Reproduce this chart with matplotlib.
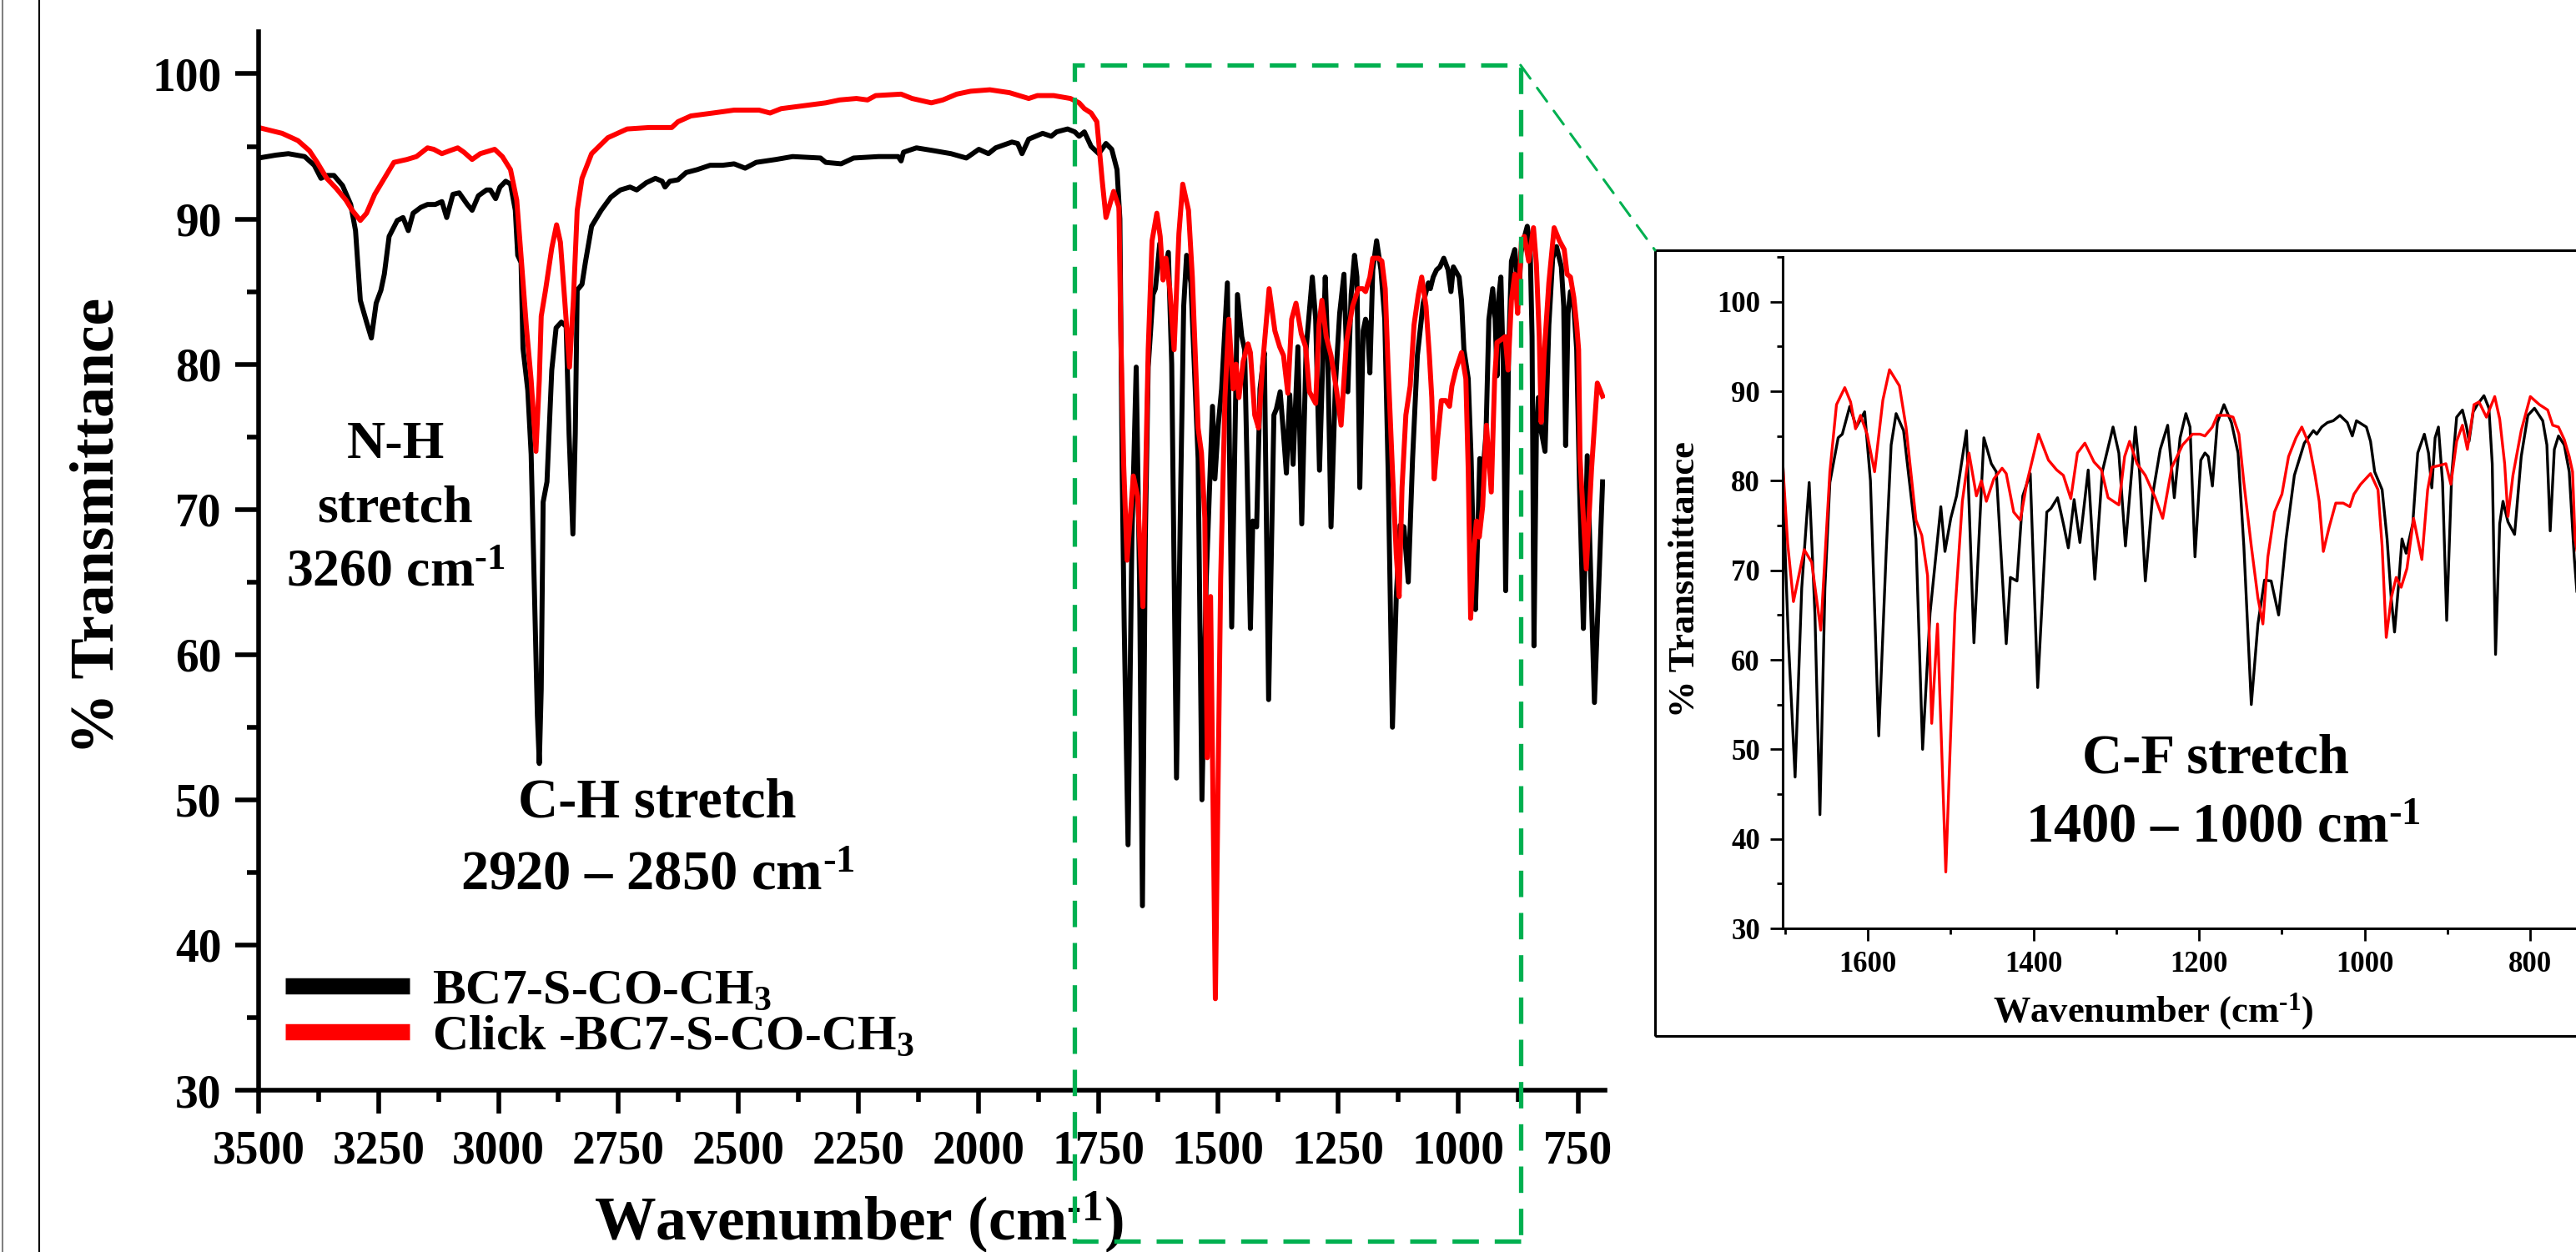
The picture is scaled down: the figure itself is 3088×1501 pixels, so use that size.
import matplotlib
matplotlib.use("Agg")
import matplotlib.pyplot as plt
from matplotlib.patches import Rectangle, ConnectionPatch
from matplotlib.lines import Line2D
from matplotlib.ticker import MultipleLocator

# FTIR spectra (wavenumber in cm-1, % transmittance)
bc7_wn = [3500, 3464, 3438, 3404, 3384, 3370, 3358, 3343, 3325, 3308,
          3298, 3288, 3275, 3265, 3255, 3245, 3238, 3228, 3211, 3199,
          3188, 3178, 3162, 3148, 3132, 3118, 3108, 3095, 3082, 3065,
          3055, 3042, 3025, 3017, 3006, 2997, 2985, 2975, 2965, 2960,
          2953, 2949, 2939, 2932, 2925, 2919, 2915, 2911, 2907, 2899,
          2889, 2880, 2869, 2859, 2853, 2845, 2840, 2836, 2826, 2819,
          2806, 2786, 2766, 2746, 2726, 2712, 2692, 2673, 2659, 2653,
          2643, 2626, 2609, 2586, 2559, 2533, 2509, 2486, 2463, 2422,
          2387, 2329, 2318, 2286, 2260, 2208, 2167, 2161, 2156, 2129,
          2092, 2057, 2025, 1999, 1979, 1964, 1930, 1918, 1909, 1895,
          1866, 1848, 1837, 1814, 1799, 1790, 1779, 1765, 1749, 1734,
          1722, 1711, 1705, 1700, 1696, 1688, 1680, 1671, 1664, 1658,
          1652, 1646, 1636, 1631, 1622, 1614, 1604, 1597, 1587, 1578,
          1572, 1566, 1557, 1542, 1534, 1525, 1512, 1507, 1500, 1493,
          1481, 1472, 1460, 1451, 1445, 1433, 1428, 1420, 1413, 1404,
          1395, 1384, 1379, 1371, 1364, 1358, 1351, 1344, 1334, 1326,
          1317, 1304, 1297, 1289, 1277, 1272, 1265, 1256, 1247, 1238,
          1230, 1223, 1216, 1211, 1205, 1198, 1193, 1189, 1184, 1178,
          1170, 1161, 1153, 1146, 1137, 1129, 1121, 1113, 1104, 1095,
          1085, 1073, 1062, 1058, 1052, 1045, 1038, 1030, 1021, 1015,
          1010, 998, 993, 988, 979, 973, 968, 964, 959, 955,
          950, 942, 936, 928, 923, 919, 915, 911, 906, 901,
          895, 889, 882, 877, 874, 869, 864, 856, 850, 846,
          842, 837, 833, 827, 819, 811, 803, 795, 785, 780,
          776, 771, 766, 759, 753, 747, 739, 731, 716, 699]
bc7_t = [94.2, 94.4, 94.5, 94.3, 93.7, 92.8, 93.0, 93.0, 92.3, 91.0,
         89.2, 84.4, 82.9, 81.8, 84.2, 85.1, 86.2, 88.8, 89.9, 90.1,
         89.2, 90.4, 90.8, 91.0, 91.0, 91.2, 90.1, 91.7, 91.8, 91.0,
         90.6, 91.6, 92.0, 92.0, 91.4, 92.2, 92.6, 92.4, 90.6, 87.5,
         87.0, 81.1, 78.2, 73.8, 64.2, 55.8, 52.5, 57.6, 70.5, 71.9,
         79.6, 82.5, 82.9, 82.6, 75.2, 68.3, 75.2, 85.1, 85.5, 87.0,
         89.5, 90.6, 91.5, 92.0, 92.2, 92.0, 92.5, 92.8, 92.6, 92.2,
         92.6, 92.7, 93.2, 93.4, 93.7, 93.7, 93.8, 93.5, 93.9, 94.1,
         94.3, 94.2, 93.9, 93.8, 94.2, 94.3, 94.3, 94.0, 94.6, 94.9,
         94.7, 94.5, 94.2, 94.8, 94.5, 94.9, 95.3, 95.2, 94.5, 95.5,
         95.9, 95.7, 96.0, 96.2, 96.0, 95.7, 96.0, 95.0, 94.5, 95.2,
         94.8, 93.4, 90.0, 72.0, 62.0, 46.9, 68.0, 79.8, 65.0, 42.7,
         68.0, 79.8, 84.8, 85.2, 88.3, 86.0, 87.7, 80.0, 51.5, 72.0,
         84.0, 87.5, 85.6, 73.5, 50.0, 65.2, 77.1, 72.1, 75.8, 78.3,
         85.6, 61.9, 84.8, 81.9, 81.0, 61.8, 69.2, 68.8, 78.3, 80.8,
         56.9, 76.5, 76.9, 78.1, 75.2, 72.5, 77.9, 73.1, 81.2, 69.0,
         81.0, 86.0, 83.1, 72.7, 86.0, 81.0, 68.8, 78.5, 83.5, 86.2,
         78.1, 84.8, 87.5, 86.0, 71.5, 82.3, 83.1, 82.7, 79.4, 86.5,
         88.5, 86.5, 83.1, 72.7, 55.0, 64.0, 68.9, 68.8, 65.0, 73.5,
         80.6, 84.2, 85.6, 85.2, 86.0, 86.5, 86.7, 87.3, 86.5, 85.0,
         86.7, 86.0, 84.4, 81.0, 79.0, 73.5, 66.9, 63.1, 68.5, 73.5,
         71.9, 75.2, 83.1, 85.2, 83.1, 79.2, 84.8, 86.0, 79.8, 64.4,
         80.6, 87.1, 87.9, 86.0, 84.4, 87.7, 88.5, 89.5, 88.1, 81.9,
         60.6, 75.2, 77.7, 75.4, 74.0, 82.7, 87.3, 88.1, 86.7, 84.0,
         74.4, 83.5, 85.0, 84.0, 81.0, 71.5, 61.8, 73.7, 56.7, 71.9]

click_wn = [3500, 3451, 3418, 3394, 3378, 3358, 3338, 3318, 3305, 3288,
            3275, 3258, 3238, 3218, 3191, 3171, 3148, 3135, 3118, 3102,
            3085, 3072, 3055, 3038, 3008, 2992, 2975, 2962, 2952, 2942,
            2932, 2922, 2915, 2911, 2902, 2889, 2879, 2871, 2862, 2852,
            2844, 2836, 2826, 2806, 2772, 2732, 2686, 2639, 2626, 2599,
            2553, 2509, 2457, 2434, 2411, 2364, 2318, 2289, 2254, 2231,
            2214, 2161, 2138, 2098, 2074, 2045, 2016, 1976, 1935, 1895,
            1877, 1843, 1808, 1790, 1779, 1765, 1753, 1742, 1734, 1718,
            1707, 1703, 1697, 1690, 1677, 1668, 1657, 1646, 1638, 1628,
            1621, 1615, 1609, 1601, 1592, 1582, 1574, 1562, 1554, 1542,
            1535, 1528, 1523, 1516, 1506, 1495, 1486, 1478, 1469, 1463,
            1457, 1448, 1438, 1433, 1424, 1416, 1408, 1394, 1382, 1372,
            1364, 1355, 1347, 1338, 1327, 1318, 1310, 1297, 1290, 1284,
            1275, 1265, 1253, 1244, 1233, 1220, 1208, 1199, 1193, 1184,
            1178, 1166, 1159, 1152, 1146, 1137, 1129, 1123, 1117, 1109,
            1100, 1092, 1083, 1076, 1067, 1060, 1055, 1050, 1043, 1035,
            1026, 1018, 1013, 1005, 993, 984, 979, 974, 968, 962,
            956, 949, 941, 931, 924, 919, 910, 902, 896, 889,
            882, 876, 868, 862, 853, 843, 837, 831, 827, 821,
            811, 800, 789, 779, 773, 766, 759, 753, 749, 746,
            733, 722, 710, 699]
click_t = [96.3, 95.9, 95.4, 94.7, 93.9, 92.8, 92.1, 91.3, 90.6, 89.9,
           90.4, 91.7, 92.8, 93.9, 94.1, 94.3, 94.9, 94.8, 94.5, 94.7,
           94.9, 94.6, 94.1, 94.5, 94.8, 94.3, 93.4, 91.3, 87.0, 82.6,
           78.9, 74.0, 78.9, 83.3, 85.1, 88.0, 89.6, 88.4, 84.4, 79.8,
           84.4, 90.6, 92.8, 94.5, 95.6, 96.2, 96.3, 96.3, 96.7, 97.1,
           97.3, 97.5, 97.5, 97.3, 97.6, 97.8, 98.0, 98.2, 98.3, 98.2,
           98.5, 98.6, 98.3, 98.0, 98.2, 98.6, 98.8, 98.9, 98.7, 98.3,
           98.5, 98.5, 98.3, 98.0, 97.6, 97.3, 96.7, 92.7, 90.1, 91.9,
           90.8, 82.0, 73.0, 66.5, 72.3, 70.9, 63.3, 81.0, 88.5, 90.4,
           88.8, 85.8, 87.3, 85.2, 81.0, 89.0, 92.4, 90.6, 86.0, 75.6,
           73.9, 69.4, 52.9, 64.0, 36.3, 65.2, 77.7, 83.1, 78.3, 80.0,
           77.7, 80.2, 81.4, 80.8, 76.5, 75.6, 79.8, 85.2, 82.3, 81.2,
           80.6, 78.0, 83.1, 84.2, 82.1, 81.2, 78.1, 77.3, 82.7, 84.4,
           81.9, 80.6, 78.1, 75.8, 81.5, 84.0, 85.2, 85.2, 85.0, 86.0,
           87.3, 87.3, 87.1, 85.2, 79.8, 72.7, 66.9, 64.0, 71.5, 76.5,
           78.5, 82.7, 84.8, 86.0, 84.0, 80.6, 77.7, 72.1, 74.8, 77.5,
           77.5, 77.1, 78.5, 79.6, 80.8, 79.0, 72.7, 62.5, 66.9, 69.2,
           68.1, 70.2, 75.8, 71.2, 79.0, 81.5, 81.7, 81.9, 79.6, 84.4,
           86.2, 83.5, 88.5, 88.8, 87.1, 89.4, 86.9, 81.9, 76.0, 80.6,
           85.6, 89.4, 88.5, 87.9, 86.2, 86.0, 84.6, 82.7, 81.0, 73.5,
           65.9, 72.8, 78.7, 77.8]

labels = ["BC7-S-CO-CH$_3$", "Click -BC7-S-CO-CH$_3$"]

W, H = 3088, 1501

plt.rcParams['font.family'] = 'Liberation Serif'
plt.rcParams['font.weight'] = 'bold'
plt.rcParams['axes.labelweight'] = 'bold'
plt.rcParams['mathtext.fontset'] = 'custom'
plt.rcParams['mathtext.rm'] = 'Liberation Serif:bold'
plt.rcParams['mathtext.it'] = 'Liberation Serif:bold'
plt.rcParams['mathtext.bf'] = 'Liberation Serif:bold'
plt.rcParams['mathtext.default'] = 'bf'

inv_cm = 'cm$^{\\text{-1}}$'

fig = plt.figure(figsize=(W / 100, H / 100), dpi=100)

# thin borders on the left edge of the page
fig.add_artist(Line2D([3 / W, 3 / W], [0, 1], transform=fig.transFigure, color='#808080', lw=1.5))
fig.add_artist(Line2D([47 / W, 47 / W], [0, 1], transform=fig.transFigure, color='black', lw=1.5))

# ---- main plot
ax = fig.add_axes([310 / W, (H - 1307) / H, 1614 / W, 1269 / H])
ax.plot(bc7_wn, bc7_t, color='black', lw=4.3)
ax.plot(click_wn, click_t, color='red', lw=4.3)
ax.set_xlim(3500, 694)
ax.set_ylim(30, 102.9)
ax.xaxis.set_major_locator(MultipleLocator(250))
ax.xaxis.set_minor_locator(MultipleLocator(125))
ax.yaxis.set_major_locator(MultipleLocator(10))
ax.yaxis.set_minor_locator(MultipleLocator(5))
for s in ['top', 'right']:
    ax.spines[s].set_visible(False)
for s in ['left', 'bottom']:
    ax.spines[s].set_linewidth(4)
ax.tick_params(which='major', direction='out', length=20, width=4, labelsize=40)
ax.tick_params(which='minor', direction='out', length=10, width=4)
ax.tick_params(axis='x', which='major', pad=14)
ax.tick_params(axis='y', which='major', pad=12)

ax.set_xlabel('Wavenumber (' + inv_cm + ')', fontsize=53)
ax.xaxis.set_label_coords(0.446, -0.126)
ax.xaxis.label.set_va('center')
ax.set_ylabel('% Transmittance', fontsize=53)
ax.yaxis.set_label_coords(-0.119, 0.5335)
ax.yaxis.label.set_va('center')

ax.text(3215, 70.0, 'N-H\nstretch\n3260 ' + inv_cm, ha='center', va='center',
        fontsize=46, linespacing=1.42)
ax.text(2669, 49.75, 'C-H stretch', ha='center', va='center', fontsize=48)
ax.text(2669, 44.8, '2920 – 2850 ' + inv_cm, ha='center', va='center', fontsize=48)

handles = [Line2D([], [], color='black', lw=14, solid_capstyle='butt'),
           Line2D([], [], color='red', lw=14, solid_capstyle='butt')]
ax.legend(handles, labels, loc='center left', bbox_to_anchor=(342 / W, (H - 1216) / H),
          bbox_transform=fig.transFigure, frameon=False, fontsize=43,
          handlelength=2.5, handletextpad=0.45, borderpad=0, borderaxespad=0,
          labelspacing=0.0)

# zoom region marker
green = '#00B050'
ax.add_patch(Rectangle((870, 19.6), 930, 81.0, fill=False, edgecolor=green, lw=3.8,
                       ls=(0, (6, 3.6)), clip_on=False, zorder=5))

# ---- inset
frame = Rectangle((1984 / W, (H - 1242) / H), 0.5, 942 / H, transform=fig.transFigure,
                  fill=False, edgecolor='black', lw=2.2)
fig.add_artist(frame)

for xyA, xyB in [((870, 100.6), (1984 / W, (H - 300) / H)),
                 ((870, 19.6), (1984 / W, (H - 1242) / H))]:
    con = ConnectionPatch(xyA=xyA, coordsA='data', axesA=ax, xyB=xyB, coordsB='figure fraction',
                          color=green, lw=2.2, ls=(0, (6.5, 4.6)), zorder=5)
    fig.add_artist(con)

ins = fig.add_axes([2137 / W, (H - 1113) / H, 995.5 / W, 805 / H])
ins.plot(bc7_wn, bc7_t, color='black', lw=2.4)
ins.plot(click_wn, click_t, color='red', lw=2.4)
ins.set_xlim(1703, 700)
ins.set_ylim(30, 105)
ins.xaxis.set_major_locator(MultipleLocator(200))
ins.xaxis.set_minor_locator(MultipleLocator(100))
ins.yaxis.set_major_locator(MultipleLocator(10))
ins.yaxis.set_minor_locator(MultipleLocator(5))
for s in ['top', 'right']:
    ins.spines[s].set_visible(False)
for s in ['left', 'bottom']:
    ins.spines[s].set_linewidth(2.2)
ins.tick_params(which='major', direction='out', length=10.5, width=2, labelsize=25, pad=9)
ins.tick_params(which='minor', direction='out', length=5, width=2)

ins.set_xlabel('Wavenumber (' + inv_cm + ')', fontsize=32)
ins.xaxis.set_label_coords(0.446, -0.124)
ins.xaxis.label.set_va('center')
ins.set_ylabel('% Transmittance', fontsize=32)
ins.yaxis.set_label_coords(-0.1175, 0.52)
ins.yaxis.label.set_va('center')

ins.text(1180, 48.95, 'C-F stretch', ha='center', va='center', fontsize=48)
ins.text(1171, 41.2, '1400 – 1000 ' + inv_cm, ha='center', va='center', fontsize=48)

fig.savefig('out.png', dpi=100)
